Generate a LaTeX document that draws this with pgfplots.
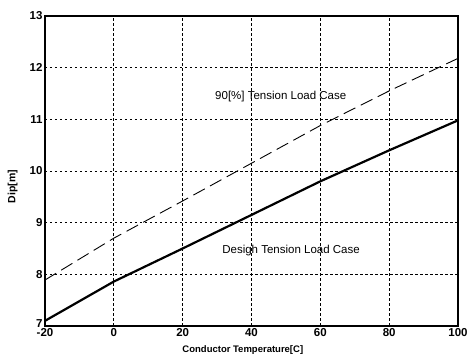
\documentclass[border=0pt]{standalone}
\usepackage{pgfplots}
\pgfplotsset{compat=1.18}
\usepackage{fontspec}
\setmainfont{Liberation Sans}
\begin{document}
\begin{tikzpicture}
\begin{axis}[
  scale only axis,
  width=413pt, height=310pt,
  xmin=-20, xmax=100, ymin=7, ymax=13,
  xtick={-20,0,...,100}, ytick={8,9,...,13},
  extra y ticks={7},
  extra y tick style={yticklabel style={yshift=2pt}, grid=none},
  grid=major,
  major grid style={black, line width=0.9pt, dash pattern=on 2.5pt off 2.5pt},
  axis line style={black, line width=1.3pt},
  tick style={draw=none},
  /pgf/number format/assume math mode=true,
  ticklabel style={font=\fontsize{11.5}{13}\selectfont\bfseries},
  xticklabel style={yshift=1pt},
  yticklabel style={xshift=1pt},
  xlabel={Conductor Temperature[C]},
  ylabel={Dip[m]},
  xlabel style={font=\fontsize{9.5}{11}\selectfont\bfseries, at={(axis description cs:0.479,-0.078)}, anchor=center},
  ylabel style={font=\fontsize{10.5}{12}\selectfont\bfseries, at={(axis description cs:-0.078,0.45)}, anchor=center},
  clip=false,
]
\addplot[black, line width=2.2pt] coordinates {
(-20,7.10) (0,7.86) (20,8.50) (40,9.15) (60,9.80) (80,10.40) (100,10.98)};
\addplot[black, line width=0.9pt, dash pattern=on 13pt off 6pt] coordinates {
(-20,7.89) (0,8.70) (20,9.42) (40,10.15) (60,10.88) (80,11.55) (100,12.18)};
\node[font=\fontsize{11.5}{13}\selectfont] at (axis cs:48.5,11.45) {90[\%] Tension Load Case};
\node[font=\fontsize{11.5}{13}\selectfont] at (axis cs:51.5,8.47) {Desigh Tension Load Case};
\coordinate (ll) at (rel axis cs:0,0);
\coordinate (ur) at (rel axis cs:1,1);
\end{axis}
\pgfresetboundingbox
\path ([shift={(-45pt,-29pt)}]ll) rectangle ([shift={(9pt,16pt)}]ur);
\end{tikzpicture}
\end{document}
